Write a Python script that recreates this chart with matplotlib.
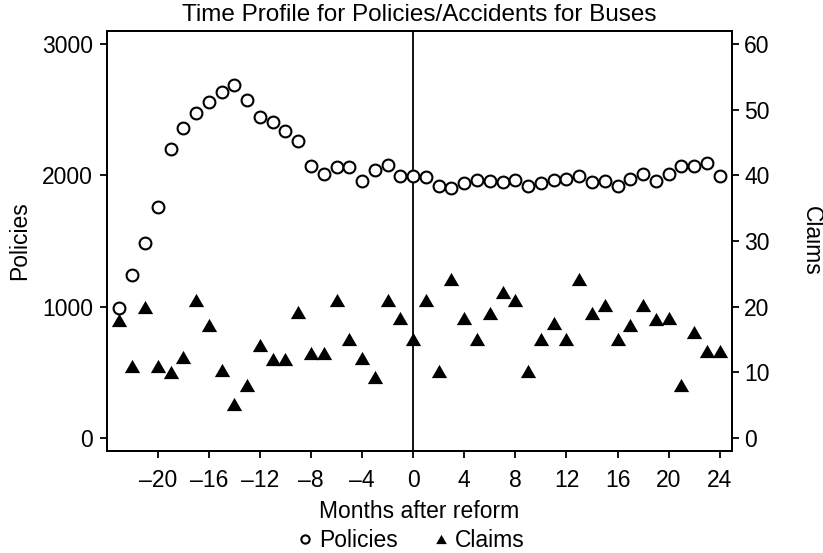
import matplotlib
matplotlib.use("Agg")
import matplotlib.pyplot as plt
import numpy as np

plt.rcParams['font.family'] = ['Liberation Sans', 'DejaVu Sans']

# months relative to the reform
months = list(range(-23, 25))

policies = [990, 1240, 1483, 1759, 2202, 2362, 2476, 2559, 2635, 2691,
            2577, 2446, 2410, 2341, 2263, 2073, 2013, 2063, 2063, 1954,
            2038, 2076, 1994, 1997, 1990, 1921, 1906, 1939, 1962, 1956,
            1949, 1967, 1916, 1944, 1962, 1972, 1992, 1947, 1954, 1916,
            1972, 2007, 1956, 2007, 2068, 2068, 2093, 1992]

claims = [18, 11, 20, 11, 10, 12.3, 21, 17.2, 10.4, 5.1,
          8.1, 14.2, 12, 12, 19.2, 13, 13, 21, 15, 12.1,
          9.3, 21, 18.2, 15, 21, 10.2, 24.2, 18.3, 15, 19,
          22.2, 21, 10.2, 15, 17.5, 15, 24.2, 19.1, 20.3, 15,
          17.2, 20.2, 18.1, 18.2, 8.1, 16.1, 13.2, 13.2]

x_ticks = [-20, -16, -12, -8, -4, 0, 4, 8, 12, 16, 20, 24]
left_ticks = [0, 1000, 2000, 3000]
right_ticks = [0, 10, 20, 30, 40, 50, 60]

FS = 16.5
fig = plt.figure(figsize=(8.23, 5.53), dpi=100)
ax = fig.add_axes([0.1296, 0.1845, 0.7604, 0.7595])
ax2 = ax.twinx()

# equilateral triangle marker, centred on its bounding box
tri = [(-1, -0.866), (1, -0.866), (0, 0.866), (-1, -0.866)]

ax.plot(months, policies, linestyle='none', marker='o', markersize=8.5,
        markerfacecolor='white', markeredgecolor='black', markeredgewidth=1.5,
        label='Policies', zorder=3)
ax2.plot(months, claims, linestyle='none', marker=tri, markersize=11,
         color='black', markeredgewidth=0, label='Claims', zorder=3)

ax.axvline(0, color='black', linewidth=1.3)

ax.set_xlim(-24, 25)
ax.set_ylim(-100, 3100)
ax2.set_ylim(-2, 62)

ax.set_xticks(x_ticks)
ax.set_xticklabels([str(t).replace('-', '\u2013') for t in x_ticks])
ax.set_yticks(left_ticks)
ax2.set_yticks(right_ticks)

ax.tick_params(axis='x', direction='out', length=5, width=1.3, pad=8, labelsize=FS)
ax.tick_params(axis='y', direction='out', length=5, width=1.3, pad=5, labelsize=FS)
ax2.tick_params(axis='y', direction='out', length=5, width=1.3, pad=3.5, labelsize=FS)

for a in (ax, ax2):
    for s in a.spines.values():
        s.set_linewidth(1.3)

ax.set_title('Time Profile for Policies/Accidents for Buses', fontsize=17.5, pad=7)
ax.set_xlabel('Months after reform', fontsize=FS, labelpad=6)
ax.set_ylabel('Policies', fontsize=FS, labelpad=8)
ax2.set_ylabel('Claims', fontsize=FS, rotation=270, labelpad=38)

h1, l1 = ax.get_legend_handles_labels()
h2, l2 = ax2.get_legend_handles_labels()
fig.legend(h1 + h2, l1 + l2, loc='center', bbox_to_anchor=(0.5, 0.022),
           ncol=2, frameon=False, fontsize=FS, markerscale=0.7,
           handlelength=0.6, handletextpad=0.3, columnspacing=1.6,
           borderaxespad=0)

fig.savefig('out.png', dpi=100, facecolor='white')
